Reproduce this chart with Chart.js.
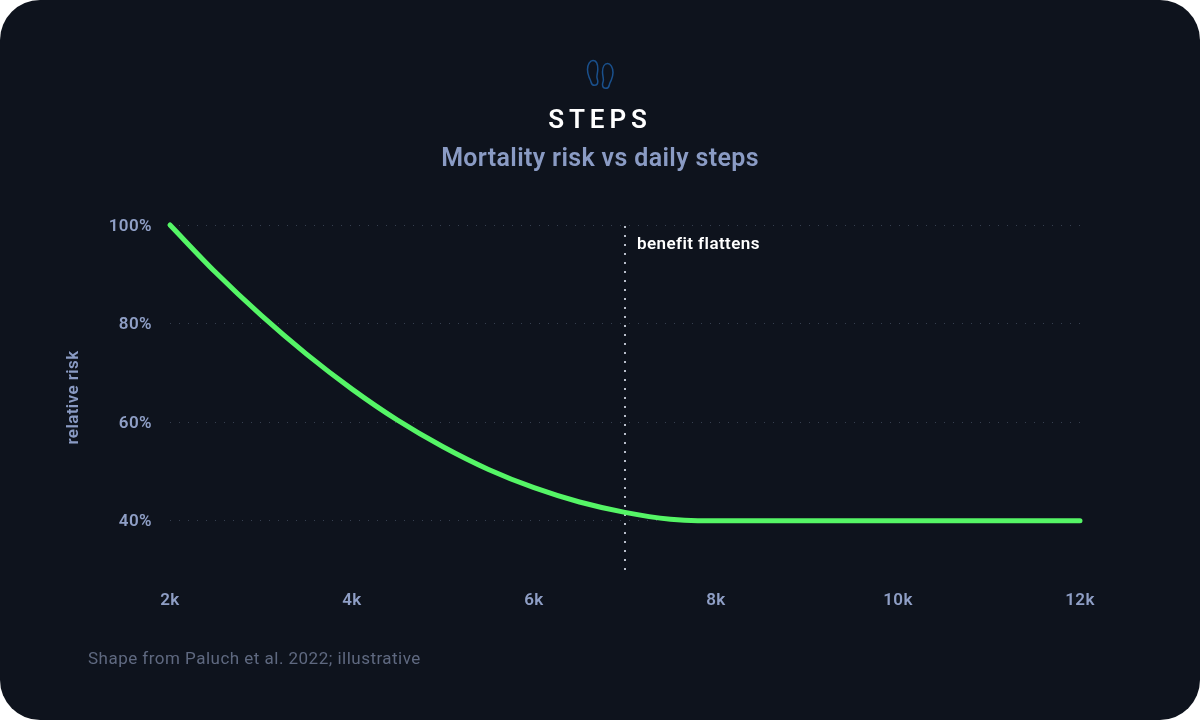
<!DOCTYPE html>
<html>
<head>
<meta charset="utf-8">
<script src="https://cdn.jsdelivr.net/npm/chart.js@4"></script>
<style>
html,body{margin:0;padding:0;background:#fff;}
#card{position:absolute;left:0;top:0;width:1200px;height:720px;background:#0e131d;border-radius:40px;overflow:hidden;font-family:Roboto,sans-serif;}
canvas{position:absolute;left:0;top:0;}
.t{position:absolute;white-space:nowrap;}
#title{left:0;width:1200px;text-align:center;top:103px;font-size:26px;line-height:32px;font-weight:600;letter-spacing:4.9px;color:#fff;text-indent:0;}
#sub{left:0;width:1200px;text-align:center;top:142px;font-size:25px;line-height:32px;font-weight:600;letter-spacing:.35px;color:#8a9bc4;}
#note{left:88px;top:648px;font-size:17px;line-height:20px;color:#5f6980;letter-spacing:.48px;}
#flat{left:637px;top:233px;font-size:17px;line-height:20px;font-weight:600;letter-spacing:.42px;color:#fff;}
svg{position:absolute;left:580px;top:55px;}
</style>
</head>
<body>
<div id="card">
<canvas id="c" width="1200" height="720"></canvas>
<svg width="40" height="38" viewBox="0 0 40 38" fill="none" stroke="#1a508c" stroke-width="1.5">
<path d="M13 5.500c3 0 4.800 3.500 4.800 8.500 0 3-.9 5.500-.9 8 0 1.500.9 3 .9 4.500 0 2.600-1.500 3.800-3.300 3.800-2 0-3-1.200-3.500-3.300-.5-2.200-1.200-2.900-2-5-.8-2-1.500-4.500-1.500-7.500 0-5 2.500-9 5.500-9z"/>
<path d="M27.500 8.500c-3 0-5 3.500-5 8.500 0 3 .9 5.500.9 8 0 1.500-.9 3-.9 4.500 0 2.600 1.500 3.800 3.300 3.800 2 0 3.100-1.200 3.500-3.300.4-2.200 1.200-2.900 2-5 .8-2 1.700-4.500 1.700-7.500 0-5-2.500-9-5.500-9z"/>
</svg>
<div class="t" id="title">STEPS</div>
<div class="t" id="sub">Mortality risk vs daily steps</div>
<div class="t" id="flat">benefit flattens</div>
<div class="t" id="note">Shape from Paluch et al. 2022; illustrative</div>
</div>
<script>
const steps = [2, 2.5, 3, 3.5, 4, 4.5, 5, 5.5, 6, 6.5, 7, 7.5, 7.8, 9, 10, 11, 12];
const risk = [100, 90.4, 81.7, 73.8, 66.7, 60.4, 55, 50.4, 46.7, 43.8, 41.7, 40.3, 40, 40, 40, 40, 40];
const markerSteps = [7, 7];
const markerRisk = [30, 100];
const xTicks = [2, 4, 6, 8, 10, 12];
const yTicks = [40, 60, 80, 100];
const font = w => ({family: 'Roboto, sans-serif', size: 17, weight: w});

new Chart(document.getElementById('c'), {
  type: 'line',
  data: {
    datasets: [
      {
        label: 'relative risk',
        data: steps.map((x, i) => ({x, y: risk[i]})),
        borderColor: '#55f566',
        borderWidth: 5,
        borderCapStyle: 'round',
        borderJoinStyle: 'round',
        cubicInterpolationMode: 'monotone',
        pointRadius: 0,
        order: 1,
        clip: false
      },
      {
        label: 'benefit flattens',
        data: markerSteps.map((x, i) => ({x, y: markerRisk[i]})),
        borderColor: '#b9bfcb',
        borderWidth: 2,
        borderDash: [2, 7],
        pointRadius: 0,
        order: 2
      }
    ]
  },
  options: {
    responsive: false,
    animation: false,
    events: [],
    layout: {padding: {left: 0, top: 225, right: 120, bottom: 0}},
    plugins: {legend: {display: false}, tooltip: {enabled: false}},
    scales: {
      x: {
        type: 'linear',
        min: 2,
        max: 12,
        afterFit: s => { s.height = 150; },
        afterBuildTicks: s => { s.ticks = xTicks.map(value => ({value})); },
        border: {display: false},
        grid: {display: false, drawTicks: false},
        ticks: {
          color: '#8f9fc6',
          font: font(600),
          padding: 21,
          maxRotation: 0,
          autoSkip: false,
          callback: v => v + 'k'
        }
      },
      y: {
        min: 30,
        max: 100,
        afterFit: s => { s.width = 170; },
        afterBuildTicks: s => { s.ticks = yTicks.map(value => ({value})); },
        border: {display: false, dash: [1, 8]},
        grid: {color: 'rgba(150,165,195,0.3)', lineWidth: 1, drawTicks: false},
        ticks: {
          color: '#8f9fc6',
          font: font(600),
          padding: 18,
          autoSkip: false,
          callback: v => v + '%'
        },
        title: {
          display: true,
          text: 'relative risk',
          color: '#8a9bc4',
          font: font(600),
          padding: {top: 64, bottom: 0}
        }
      }
    }
  },
  plugins: [{
    id: 'labelNudge',
    beforeDraw(chart) {
      chart.ctx.letterSpacing = '0.4px';
      chart.scales.y.getLabelItems().forEach(item => { item.options.translation[1] += 1.5; });
    }
  }]
});
</script>
</body>
</html>
